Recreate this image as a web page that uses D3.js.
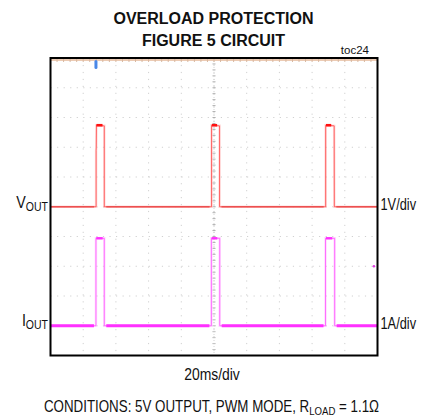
<!DOCTYPE html>
<html>
<head>
<meta charset="utf-8">
<script src="https://cdn.jsdelivr.net/npm/d3@7"></script>
<style>
  html, body { margin: 0; padding: 0; background: #fff; }
  svg { display: block; }
  text { font-family: "Liberation Sans", Arial, sans-serif; fill: #111; }
  .title { font-weight: bold; }
</style>
</head>
<body>
<svg id="chart" width="425" height="418"></svg>
<script>
// Time axis in ms (20 ms/div, 10 divisions)
const timeDomain = [0, 200];
// Vertical axis in divisions (10 divisions, centre = 0)
const divDomain = [-5, 5];

// Output voltage trace (V, 1 V/div, zero at centre line)
const voutTime  = [0, 27.9, 27.9, 28.0, 28.1, 32.6, 32.9, 32.9, 98.5, 98.5, 98.7, 103.1, 103.4, 103.4, 168.3, 168.3, 168.5, 173.5, 173.6, 200];
const voutValue = [0, 0,    1.9,  2.0,  2.74, 2.72, 2.72, 0,    0,    2.74, 2.74, 2.72,  2.72,  0,     0,     2.74,  2.74,  2.72,  0,     0];
// Flat tops of the voltage pulses (drawn heavier)
const voutTopStart = [28.1, 98.7, 168.5];
const voutTopEnd   = [31.8, 101.9, 171.7];
const voutTopValue = [2.74, 2.74, 2.74];

// Output current trace (A, 1 A/div, zero four divisions below centre)
const ioutTime  = [0, 27.8, 27.8, 28.0, 32.7, 32.9, 32.9, 98.4, 98.4, 98.6, 103.3, 103.5, 103.5, 168.2, 168.2, 168.5, 173.6, 173.8, 173.8, 200];
const ioutValue = [0, 0,    2.94, 2.94, 2.94, 2.94, 0,    0,    2.94, 2.94, 2.94,  2.94,  0,     0,     2.94,  2.94,  2.94,  2.94,  0,     0];
const ioutTopStart = [28.0, 98.6, 168.5];
const ioutTopEnd   = [31.9, 102.0, 172.3];
const ioutTopValue = [2.94, 2.94, 2.94];

const voutOffset = 0;   // divisions
const ioutOffset = -4;  // divisions

const titleLines = ["OVERLOAD PROTECTION", "FIGURE 5 CIRCUIT"];

const svg = d3.select("#chart");
const frame = { left: 50.5, right: 377.5, top: 58, bottom: 355.5 };

const x = d3.scaleLinear().domain(timeDomain).range([frame.left, frame.right]);
const y = d3.scaleLinear().domain(divDomain).range([frame.bottom, frame.top]);

// Graticule: dotted division lines
const g = svg.append("g");
const xDivs = d3.range(1, 10).map(i => timeDomain[0] + i * 20);
const yDivs = d3.range(-4, 5);

g.selectAll("line.vx").data(xDivs).enter().append("line")
  .attr("x1", d => x(d)).attr("x2", d => x(d))
  .attr("y1", frame.top).attr("y2", frame.bottom)
  .attr("stroke", "#d0d0d0").attr("stroke-width", 1)
  .attr("stroke-dasharray", "1.2,5.75");
g.selectAll("line.hy").data(yDivs).enter().append("line")
  .attr("y1", d => y(d)).attr("y2", d => y(d))
  .attr("x1", frame.left).attr("x2", frame.right)
  .attr("stroke", "#d0d0d0").attr("stroke-width", 1)
  .attr("stroke-dasharray", "1.2,5.35");

// Centre line minor ticks
const cx = x(100);
const minorY = d3.range(-5, 5.01, 0.2);
g.selectAll("line.my").data(minorY).enter().append("line")
  .attr("x1", cx - 1.5).attr("x2", cx + 1.5)
  .attr("y1", d => y(d)).attr("y2", d => y(d))
  .attr("stroke", "#b0b0b0").attr("stroke-width", 1);
g.append("line").attr("x1", cx).attr("x2", cx).attr("y1", frame.top).attr("y2", frame.bottom)
  .attr("stroke", "#d4d4d4").attr("stroke-width", 1).attr("stroke-dasharray", "1,2");

// Top edge band with ticks
g.append("line").attr("x1", frame.left).attr("x2", frame.right)
  .attr("y1", frame.top + 2).attr("y2", frame.top + 2)
  .attr("stroke", "#eccbb4").attr("stroke-width", 2);
const topTicks = d3.range(0, 200.01, 4);
g.selectAll("line.tt").data(topTicks).enter().append("line")
  .attr("x1", d => x(d)).attr("x2", d => x(d))
  .attr("y1", frame.top + 1).attr("y2", frame.top + 4)
  .attr("stroke", "#d8b8a0").attr("stroke-width", 1);

// Traces
const line = off => d3.line().x(d => x(d[0])).y(d => y(d[1] + off));

function trace(times, values, off, color, halo) {
  const pts = times.map((t, i) => [t, values[i]]);
  svg.append("path").attr("d", line(off)(pts)).attr("fill", "none")
    .attr("stroke", halo).attr("stroke-width", 2.5).attr("stroke-opacity", 0.45);
  svg.append("path").attr("d", line(off)(pts)).attr("fill", "none")
    .attr("stroke", color).attr("stroke-width", 1).attr("stroke-opacity", 0.7);
}
function baseline(times, values, off, color, w) {
  // heavier stroke along the zero-level segments
  for (let i = 0; i < times.length - 1; i++) {
    if (values[i] === 0 && values[i + 1] === 0) {
      svg.append("line")
        .attr("x1", x(times[i]) + (i ? 2 : 0)).attr("x2", x(times[i + 1]) - (i + 1 < times.length - 1 ? 2 : 0))
        .attr("y1", y(off)).attr("y2", y(off))
        .attr("stroke", color).attr("stroke-width", w);
    }
  }
}
function tops(starts, ends, vals, off, color, w) {
  starts.forEach((s, i) => {
    svg.append("line")
      .attr("x1", x(s)).attr("x2", x(ends[i]))
      .attr("y1", y(vals[i] + off)).attr("y2", y(vals[i] + off))
      .attr("stroke", color).attr("stroke-width", w);
  });
}

trace(voutTime, voutValue, voutOffset, "#ff3030", "#ffb0b0");
baseline(voutTime, voutValue, voutOffset, "#ec5050", 1.6);
tops(voutTopStart, voutTopEnd, voutTopValue, voutOffset, "#ff1010", 2.6);

trace(ioutTime, ioutValue, ioutOffset, "#ff40ff", "#ffb0ff");
baseline(ioutTime, ioutValue, ioutOffset, "#ff30ff", 2.8);
tops(ioutTopStart, ioutTopEnd, ioutTopValue, ioutOffset, "#ff30ff", 2.4);

// Trigger marker and stray dot
svg.append("rect").attr("x", x(27.8) - 1.5).attr("y", frame.top + 2).attr("width", 3).attr("height", 9)
  .attr("rx", 1.5).attr("fill", "#4a88e8");
svg.append("circle").attr("cx", x(197.8)).attr("cy", y(-2)).attr("r", 1.3).attr("fill", "#e040e0");

// Frame
svg.append("rect").attr("x", frame.left).attr("y", frame.top)
  .attr("width", frame.right - frame.left).attr("height", frame.bottom - frame.top)
  .attr("fill", "none").attr("stroke", "#000").attr("stroke-width", 2);

// Titles
svg.selectAll("text.title").data(titleLines).enter().append("text")
  .attr("class", "title")
  .attr("x", 213.5).attr("y", (d, i) => 24 + i * 22)
  .attr("text-anchor", "middle").attr("font-size", 16)
  .text(d => d);

svg.append("text").attr("x", 369).attr("y", 54).attr("text-anchor", "end")
  .attr("font-size", 11.5).text("toc24");

// Condensed text: drawn in a horizontally squeezed group
function narrow(xp, yp, sx, anchor, size) {
  return svg.append("g").attr("transform", `translate(${xp},${yp}) scale(${sx},1)`)
    .append("text").attr("x", 0).attr("y", 0).attr("text-anchor", anchor).attr("font-size", size);
}
function subLabel(xp, yp, main, sub) {
  const t = narrow(xp, yp, 0.84, "end", 17);
  t.append("tspan").text(main);
  t.append("tspan").attr("font-size", 12.5).attr("dy", 3).text(sub);
}
subLabel(48, y(voutOffset) + 1.5, "V", "OUT");
subLabel(48, y(ioutOffset) + 0.5, "I", "OUT");

narrow(380.5, y(voutOffset) + 3.5, 0.8, "start", 16).text("1V/div");
narrow(380.5, y(ioutOffset) + 3.5, 0.8, "start", 16).text("1A/div");

narrow(212, 380, 0.87, "middle", 16).text("20ms/div");

const cond = narrow(211.5, 411.5, 0.835, "middle", 16);
cond.append("tspan").text("CONDITIONS: 5V OUTPUT, PWM MODE, R");
cond.append("tspan").attr("font-size", 11.5).attr("dy", 3).text("LOAD");
cond.append("tspan").attr("dy", -3).text(" = 1.1Ω");
</script>
</body>
</html>
